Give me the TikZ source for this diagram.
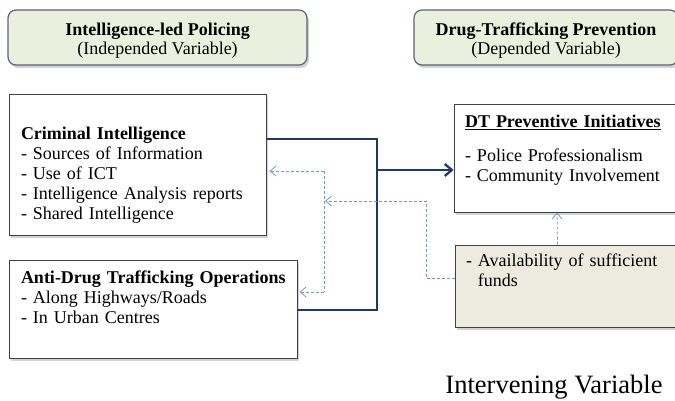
\documentclass[tikz,border=0pt]{standalone}
\usepackage{fontspec}
\setmainfont{Liberation Serif}
\usepackage{xcolor}
\usepackage{tikz}
\usetikzlibrary{positioning, arrows.meta, shadows}
\definecolor{navy}{HTML}{1F3864}
\definecolor{dashblue}{HTML}{6F98CE}
\definecolor{headfill}{HTML}{EBF0DE}
\definecolor{headline}{HTML}{56647E}
\definecolor{fundfill}{HTML}{EDEADF}

\begin{document}
\begin{tikzpicture}[x=1pt, y=-1pt,
		varbox/.style 2 args={
			rectangle,
			rounded corners=8pt,
			draw=headline,
			line width=1.2pt,
			fill=headfill,
			minimum width=#1,
			minimum height=#2,
			align=center,
			font=\fontsize{18}{19}\selectfont,
			drop shadow={shadow xshift=2pt, shadow yshift=-3pt, opacity=0.35}},
		itembox/.style={
			rectangle,
			draw=black!75,
			line width=0.9pt,
			fill=#1,
			inner xsep=11pt,
			align=left,
			font=\fontsize{18}{20}\selectfont,
			drop shadow={shadow xshift=2pt, shadow yshift=-3pt, opacity=0.35}},
		link/.style={draw=navy, line width=2.3pt},
		dashlink/.style={draw=dashblue, line width=0.8pt, dash pattern=on 3pt off 2pt},
		>={Straight Barb[length=6pt, width=10pt]}
		]
		\useasboundingbox (0,0) rectangle (675,401);
		% variable headers
		\node [varbox={299pt}{55pt}] (ilp) at (157.5,37.5) {\rule{0pt}{18pt}\textbf{Intelligence-led Policing}\\(Independed Variable)};
		\node [varbox={264pt}{55pt}] (dtp) at (546,37.5) {\rule{0pt}{18pt}\textbf{Drug-Trafficking Prevention}\\(Depended Variable)};
		% boxes
		\node [itembox=white, minimum width=257pt, text width=233pt, minimum height=141pt] (ci) at (137.5,164.5)
			{\rule{0pt}{33pt}\textbf{Criminal Intelligence}\\- Sources of Information\\- Use of ICT\\- Intelligence Analysis reports\\- Shared Intelligence};
		\node [itembox=white, minimum width=288pt, text width=264pt, minimum height=98pt] (adt) at (153,309)
			{\mbox{\textbf{Anti-Drug Trafficking Operations}}\\- Along Highways/Roads\\- In Urban Centres\rule[-24pt]{0pt}{0pt}};
		\node [itembox=white, minimum width=222pt, text width=200pt, minimum height=108pt] (dt) at (565,158)
			{\underline{\textbf{DT Preventive Initiatives}}\\[14pt]- Police Professionalism\\- Community Involvement\\\mbox{}};
		\node [itembox=fundfill, minimum width=221pt, text width=199pt, minimum height=82pt] (funds) at (565.5,286)
			{- Availability of sufficient\\\phantom{- }funds\\[11pt]\mbox{}};
		\node [font=\fontsize{26.5}{30}\selectfont] (iv) at (554,387) {Intervening Variable};
		% connectors
		\coordinate (bustop) at (377,139);
		\coordinate (busmid) at (377,170);
		\coordinate (busbot) at (377,310);
		\draw[link] (ci.east |- bustop) -- (bustop) -- (busbot) -- (adt.east |- busbot);
		\draw[link, -{Straight Barb[length=7pt, width=12pt]}] (busmid) -- (dt.west |- busmid);
		\coordinate (fundsout) at (426,278);
		\coordinate (fundsturn) at (426,201);
		\coordinate (splitmid) at (325,201);
		\coordinate (splittop) at (324,171);
		\coordinate (splitbot) at (324,292);
		\draw[dashlink, ->] (funds.west |- fundsout) -- (fundsout) -- (fundsturn) -- (splitmid);
		\draw[dashlink] (splittop) -- (splitbot);
		\draw[dashlink, ->] (splittop) -- ([xshift=3pt]ci.east |- splittop);
		\draw[dashlink, ->] (splitbot) -- ([xshift=2pt]adt.east |- splitbot);
		\draw[dashlink, ->] ([xshift=-8pt]funds.north) -- ([xshift=-8pt]dt.south);
\end{tikzpicture}
\end{document}
